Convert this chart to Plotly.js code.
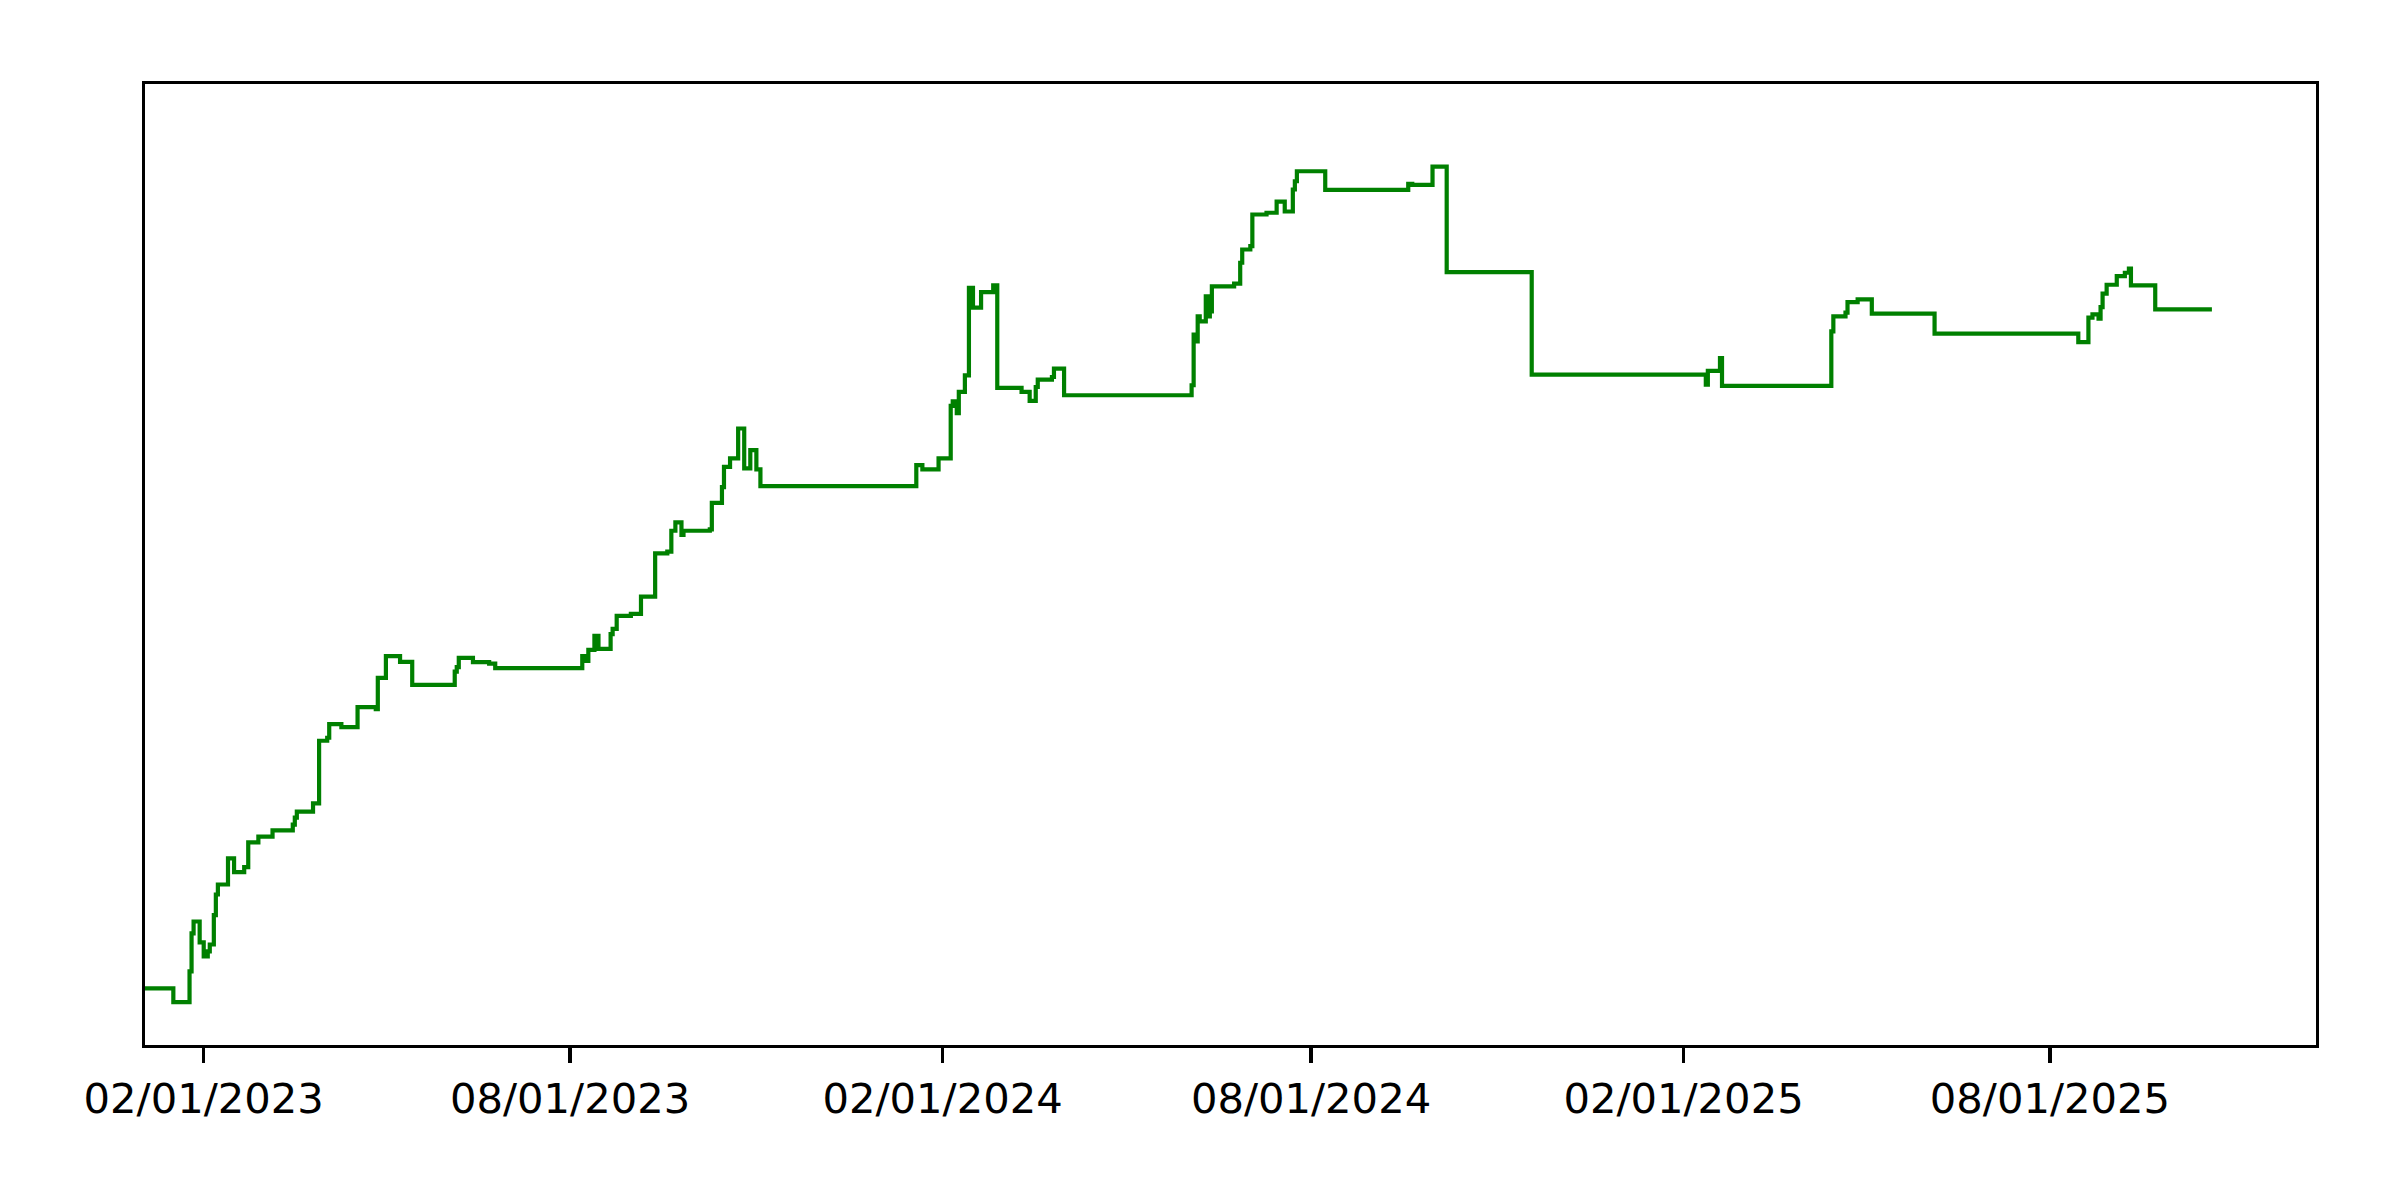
<!DOCTYPE html>
<html>
<head>
<meta charset="utf-8">
<script src="https://cdn.plot.ly/plotly-3.0.1.min.js"></script>
<style>html,body{margin:0;padding:0;background:#fff;}#chart{width:2400px;height:1200px;}</style>
</head>
<body>
<div id="chart"></div>
<script>
const dates = [
"2023-01-03","2023-01-17","2023-01-25","2023-01-26","2023-01-27","2023-01-30","2023-02-01","2023-02-03","2023-02-04","2023-02-06",
"2023-02-07","2023-02-08","2023-02-13","2023-02-16","2023-02-21","2023-02-23","2023-02-28","2023-03-07","2023-03-17","2023-03-18",
"2023-03-19","2023-03-27","2023-03-30","2023-04-03","2023-04-04","2023-04-10","2023-04-18","2023-04-27","2023-04-28","2023-05-02",
"2023-05-09","2023-05-15","2023-06-05","2023-06-06","2023-06-07","2023-06-14","2023-06-22","2023-06-25","2023-08-07","2023-08-08",
"2023-08-10","2023-08-13","2023-08-15","2023-08-21","2023-08-22","2023-08-24","2023-08-31","2023-09-05","2023-09-12","2023-09-18",
"2023-09-20","2023-09-22","2023-09-25","2023-09-26","2023-10-09","2023-10-10","2023-10-15","2023-10-16","2023-10-19","2023-10-23",
"2023-10-26","2023-10-29","2023-11-01","2023-11-03","2024-01-19","2024-01-22","2024-01-30","2024-02-05","2024-02-06","2024-02-08",
"2024-02-09","2024-02-12","2024-02-14","2024-02-16","2024-02-20","2024-02-26","2024-02-28","2024-03-11","2024-03-15","2024-03-18",
"2024-03-19","2024-03-26","2024-03-27","2024-04-01","2024-06-03","2024-06-04","2024-06-05","2024-06-06","2024-06-07","2024-06-10",
"2024-06-11","2024-06-12","2024-06-13","2024-06-24","2024-06-27","2024-06-28","2024-07-02","2024-07-03","2024-07-10","2024-07-15",
"2024-07-19","2024-07-23","2024-07-24","2024-07-25","2024-08-08","2024-09-18","2024-09-20","2024-09-30","2024-10-07","2024-11-18",
"2025-02-12","2025-02-13","2025-02-19","2025-02-20","2025-04-15","2025-04-16","2025-04-22","2025-04-23","2025-04-28","2025-05-05",
"2025-06-05","2025-08-15","2025-08-20","2025-08-22","2025-08-25","2025-08-26","2025-08-27","2025-08-29","2025-09-03","2025-09-07",
"2025-09-09","2025-09-10","2025-09-22","2025-10-20"
];
const values = [
5.89,4.47,7.66,11.61,12.85,10.67,9.22,9.74,10.46,13.51,
15.66,16.70,19.43,17.98,18.50,21.09,21.69,22.34,22.93,23.66,
24.28,25.15,31.66,31.97,33.40,33.08,35.16,34.95,38.21,40.46,
39.87,37.48,38.86,39.32,40.28,39.84,39.69,39.21,40.46,39.97,
41.12,42.57,41.22,42.75,43.30,44.65,44.86,46.65,51.16,51.33,
53.51,54.39,53.07,53.51,53.66,56.42,58.05,60.16,61.04,64.15,
60.00,61.90,59.89,58.16,60.34,59.89,61.04,66.50,66.99,65.74,
67.96,69.69,78.80,76.72,78.35,79.04,68.37,67.96,67.02,68.47,
69.24,69.51,70.39,67.61,68.65,73.92,73.22,75.82,75.30,77.90,
75.82,76.34,78.94,79.22,81.40,82.78,83.13,86.42,86.60,87.77,
86.73,89.02,89.88,90.92,88.99,89.61,89.51,91.41,80.42,69.76,
68.72,70.14,71.49,68.58,74.26,75.82,76.21,77.31,77.59,76.10,
74.02,73.15,75.69,76.03,75.58,76.79,78.18,79.11,80.01,80.36,
80.78,79.04,76.55,76.55
];
const tickDates = ["2023-02-01","2023-08-01","2024-02-01","2024-08-01","2025-02-01","2025-08-01"];
const tickLabels = ["02/01/2023","08/01/2023","02/01/2024","08/01/2024","02/01/2025","08/01/2025"];
const xRange = ["2023-01-03","2025-12-10 10:00"];
const yRange = [0, 100];

const trace = {
  x: dates, y: values, type: "scatter", mode: "lines",
  line: {shape: "hv", color: "#008000", width: 4.2},
  hoverinfo: "skip"
};
const layout = {
  width: 2400, height: 1200,
  paper_bgcolor: "#ffffff", plot_bgcolor: "#ffffff",
  margin: {l: 145, r: 84, t: 84, b: 155, pad: 0},
  showlegend: false,
  font: {family: "DejaVu Sans", size: 41.7, color: "#000000"},
  xaxis: {
    type: "date", range: xRange,
    tickvals: tickDates, ticktext: tickLabels,
    ticks: "outside", ticklen: 14.6, tickwidth: 3.3, tickcolor: "#000",
    showline: true, linecolor: "#000", linewidth: 3.3, mirror: true,
    showgrid: false, zeroline: false,
    tickfont: {family: "DejaVu Sans", size: 41.7, color: "#000"}
  },
  yaxis: {
    range: yRange,
    showticklabels: false, ticks: "",
    showline: true, linecolor: "#000", linewidth: 3.3, mirror: true,
    showgrid: false, zeroline: false
  }
};
Plotly.newPlot("chart", [trace], layout, {staticPlot: true, displayModeBar: false});
</script>
</body>
</html>
